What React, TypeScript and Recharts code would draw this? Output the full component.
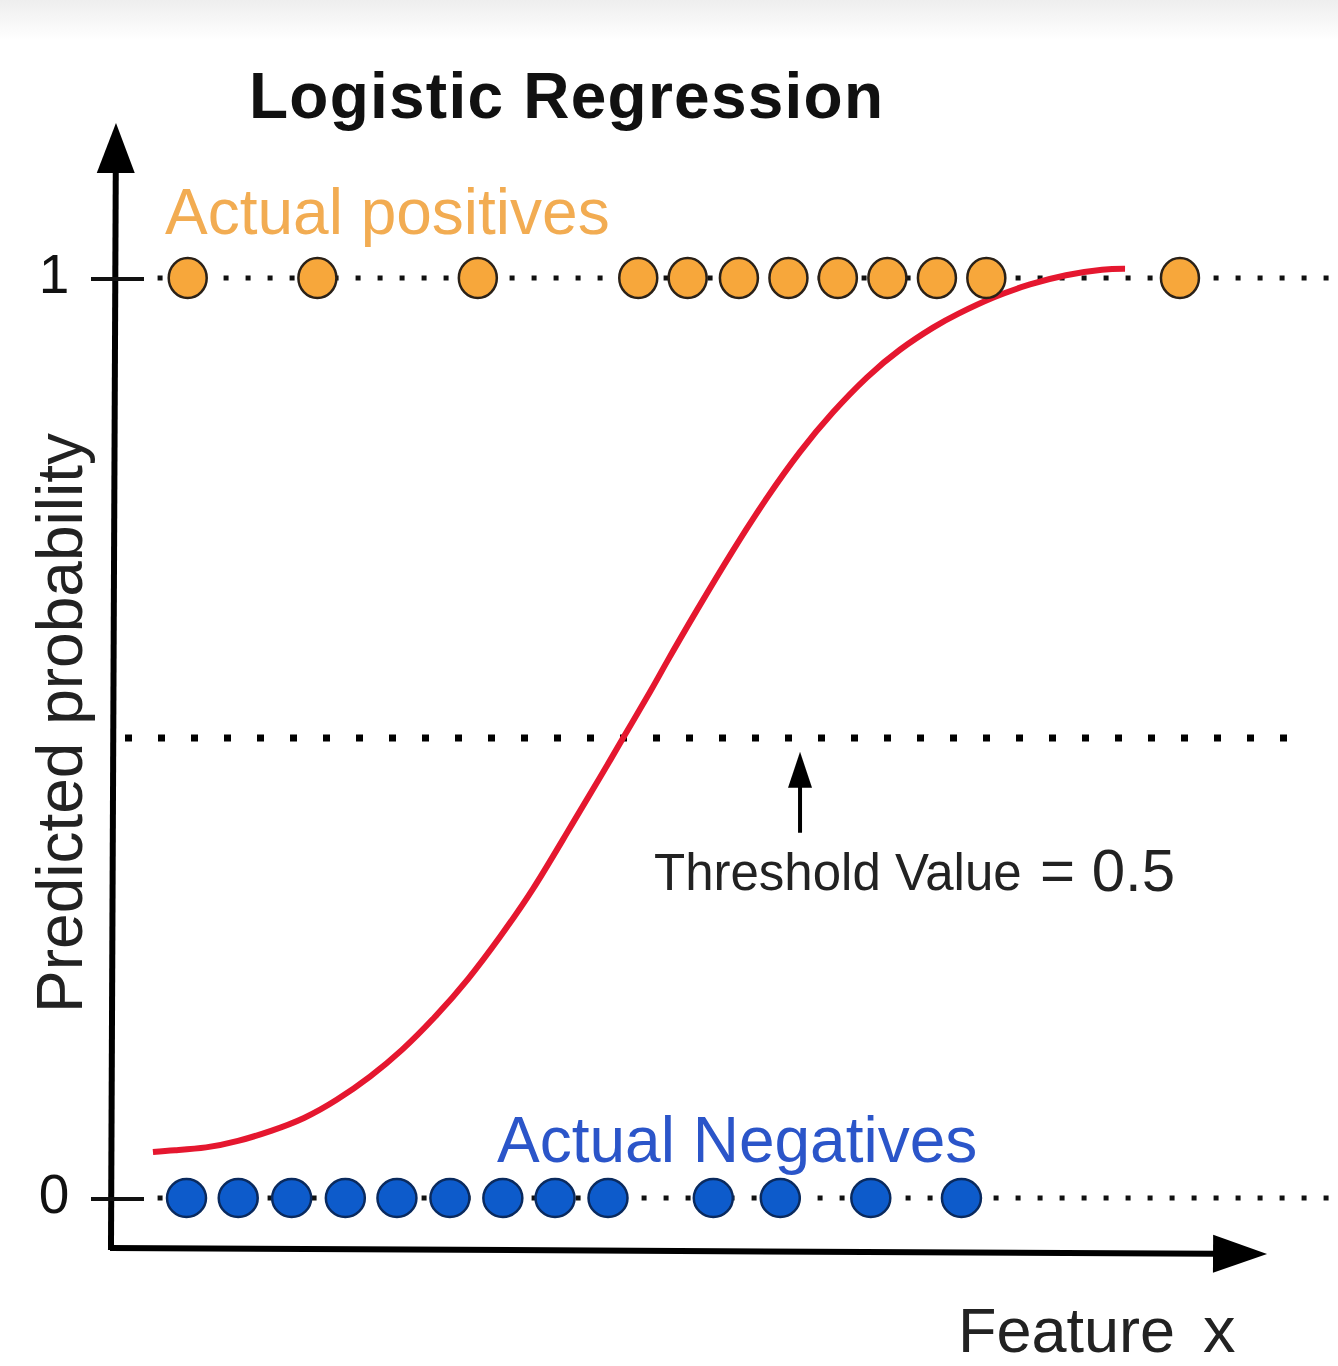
import React from 'react';
import { ComposedChart, XAxis, YAxis, Line, Scatter, ReferenceLine } from 'recharts';

const FONT = '"Liberation Sans", Arial, Helvetica, sans-serif';

// ---- data (feature scale 0..100, probability 0..1) ----
const positiveX = [6.37, 17.0, 30.15, 43.3, 47.35, 51.55, 55.61, 59.66, 63.72, 67.78, 71.83, 87.7];
const negativeX = [6.27, 10.51, 14.89, 19.29, 23.52, 27.86, 32.2, 36.48, 40.82, 49.45, 54.94, 62.36, 69.79];
const curveX = [3.52, 5.33, 7.87, 10.49, 13.2, 15.9, 18.61, 21.31, 23.93, 26.64, 29.34, 31.97, 34.67, 37.46, 40.16, 41.97, 44.26, 45.66, 48.11, 51.07, 53.85, 56.56, 59.26, 62.05, 64.75, 67.46, 69.51, 72.46, 75.41, 78.36, 81.31, 83.2];
const curveY = [0.05, 0.052, 0.055, 0.062, 0.073, 0.087, 0.107, 0.132, 0.161, 0.197, 0.238, 0.284, 0.336, 0.397, 0.457, 0.498, 0.55, 0.583, 0.639, 0.704, 0.761, 0.811, 0.854, 0.892, 0.922, 0.946, 0.961, 0.979, 0.993, 1.003, 1.009, 1.01];
const yTicks = [0, 1];
const thresholdValue = 0.5;

const positives = positiveX.map((x) => ({ x, y: 1 }));
const negatives = negativeX.map((x) => ({ x, y: 0 }));
const curve = curveX.map((x, i) => ({ x, y: curveY[i] }));

// guide extents (layout)
const guideOne = [{ x: 3.9, y: 1 }, { x: 100, y: 1 }];
const guideZero = [{ x: 3.9, y: 0 }, { x: 100, y: 0 }];
const guideHalf = [{ x: 1.23, y: thresholdValue }, { x: 98.4, y: thresholdValue }];

const arrowShape = (head: number, half: number, width: number) => (props: any) => {
  const { x1, y1, x2, y2 } = props;
  const dx = x2 - x1;
  const dy = y2 - y1;
  const len = Math.hypot(dx, dy) || 1;
  const ux = dx / len;
  const uy = dy / len;
  const bx = x2 - ux * head;
  const by = y2 - uy * head;
  const px = -uy;
  const py = ux;
  return (
    <g>
      <line x1={x1} y1={y1} x2={bx + ux * 2} y2={by + uy * 2} stroke="#000" strokeWidth={width} />
      <polygon
        points={`${x2},${y2} ${bx + px * half},${by + py * half} ${bx - px * half},${by - py * half}`}
        fill="#000"
      />
    </g>
  );
};

const YTick = (props: any) => {
  const { y, payload } = props;
  return (
    <g>
      <line x1={91} x2={144} y1={y + 1} y2={y + 1} stroke="#111" strokeWidth={4} />
      <text x={54} y={y} dy={15} textAnchor="middle" fontSize={55} fontFamily={FONT} fill="#111">
        {payload.value}
      </text>
    </g>
  );
};

const OrangeDot = (p: any) => (
  <ellipse cx={p.cx} cy={p.cy} rx={19} ry={20} fill="#F7A73B" stroke="#2a2118" strokeWidth={2.5} />
);
const BlueDot = (p: any) => (
  <ellipse cx={p.cx} cy={p.cy} rx={19.5} ry={19} fill="#0D5BCB" stroke="#0a2a5e" strokeWidth={2.5} />
);

export default function App() {
  return (
    <div
      style={{
        position: 'absolute',
        left: 0,
        top: 0,
        width: 1338,
        height: 1366,
        background: 'linear-gradient(#eeeeee 0px, #ffffff 40px)',
      }}
    >
      <ComposedChart
        width={1338}
        height={1366}
        margin={{ top: 121.6, right: 8, bottom: 103.6, left: 0 }}
        style={{ position: 'absolute', left: 0, top: 0 }}
      >
        <XAxis type="number" dataKey="x" domain={[0, 100]} allowDataOverflow hide />
        <YAxis
          type="number"
          dataKey="y"
          domain={[-0.07, 1.17]}
          allowDataOverflow
          ticks={yTicks}
          interval={0}
          width={110}
          axisLine={false}
          tickLine={false}
          tick={<YTick />}
        />
        <Line data={guideHalf} dataKey="y" stroke="#000" strokeWidth={7} strokeDasharray="7 26" dot={false} activeDot={false} isAnimationActive={false} />
        <Line data={guideOne} dataKey="y" stroke="#111" strokeWidth={5} strokeDasharray="5 17" dot={false} activeDot={false} isAnimationActive={false} />
        <Line data={guideZero} dataKey="y" stroke="#111" strokeWidth={5} strokeDasharray="5 17" dot={false} activeDot={false} isAnimationActive={false} />
        <Line data={curve} dataKey="y" type="natural" stroke="#E5172F" strokeWidth={6} dot={false} activeDot={false} isAnimationActive={false} />
        <Scatter data={positives} shape={OrangeDot} isAnimationActive={false} />
        <Scatter data={negatives} shape={BlueDot} isAnimationActive={false} />
        <ReferenceLine
          segment={[{ x: 0.08, y: -0.0565 }, { x: 0.49, y: 1.1685 }]}
          ifOverflow="visible"
          shape={arrowShape(50, 19, 6)}
        />
        <ReferenceLine
          segment={[{ x: 0.0, y: -0.0543 }, { x: 94.84, y: -0.0609 }]}
          ifOverflow="visible"
          shape={arrowShape(54, 19, 6)}
        />
        <ReferenceLine
          segment={[{ x: 56.56, y: 0.397 }, { x: 56.56, y: 0.485 }]}
          ifOverflow="visible"
          shape={arrowShape(36, 12, 4)}
        />
      </ComposedChart>
      <svg
        width={1338}
        height={1366}
        style={{ position: 'absolute', left: 0, top: 0, pointerEvents: 'none' }}
        fontFamily={FONT}
      >
        <text x={249} y={118} fontSize={64} fontWeight="bold" fill="#111" textLength={634} lengthAdjust="spacing">
          Logistic Regression
        </text>
        <text x={165} y={234} fontSize={64} fill="#F2AC52">
          Actual positives
        </text>
        <text x={497} y={1162} fontSize={64} fill="#2B55C9">
          Actual Negatives
        </text>
        <text x={654} y={890} fontSize={51} fill="#222">
          Threshold Value
        </text>
        <text x={1040} y={891} fontSize={60} fill="#222">
          = 0.5
        </text>
        <text transform="translate(82,723) rotate(-90)" textAnchor="middle" fontSize={64} fill="#222">
          Predicted probability
        </text>
        <text x={958} y={1352} fontSize={63} fill="#222">
          Feature
        </text>
        <text x={1203} y={1352} fontSize={65} fill="#222">
          x
        </text>
      </svg>
    </div>
  );
}
